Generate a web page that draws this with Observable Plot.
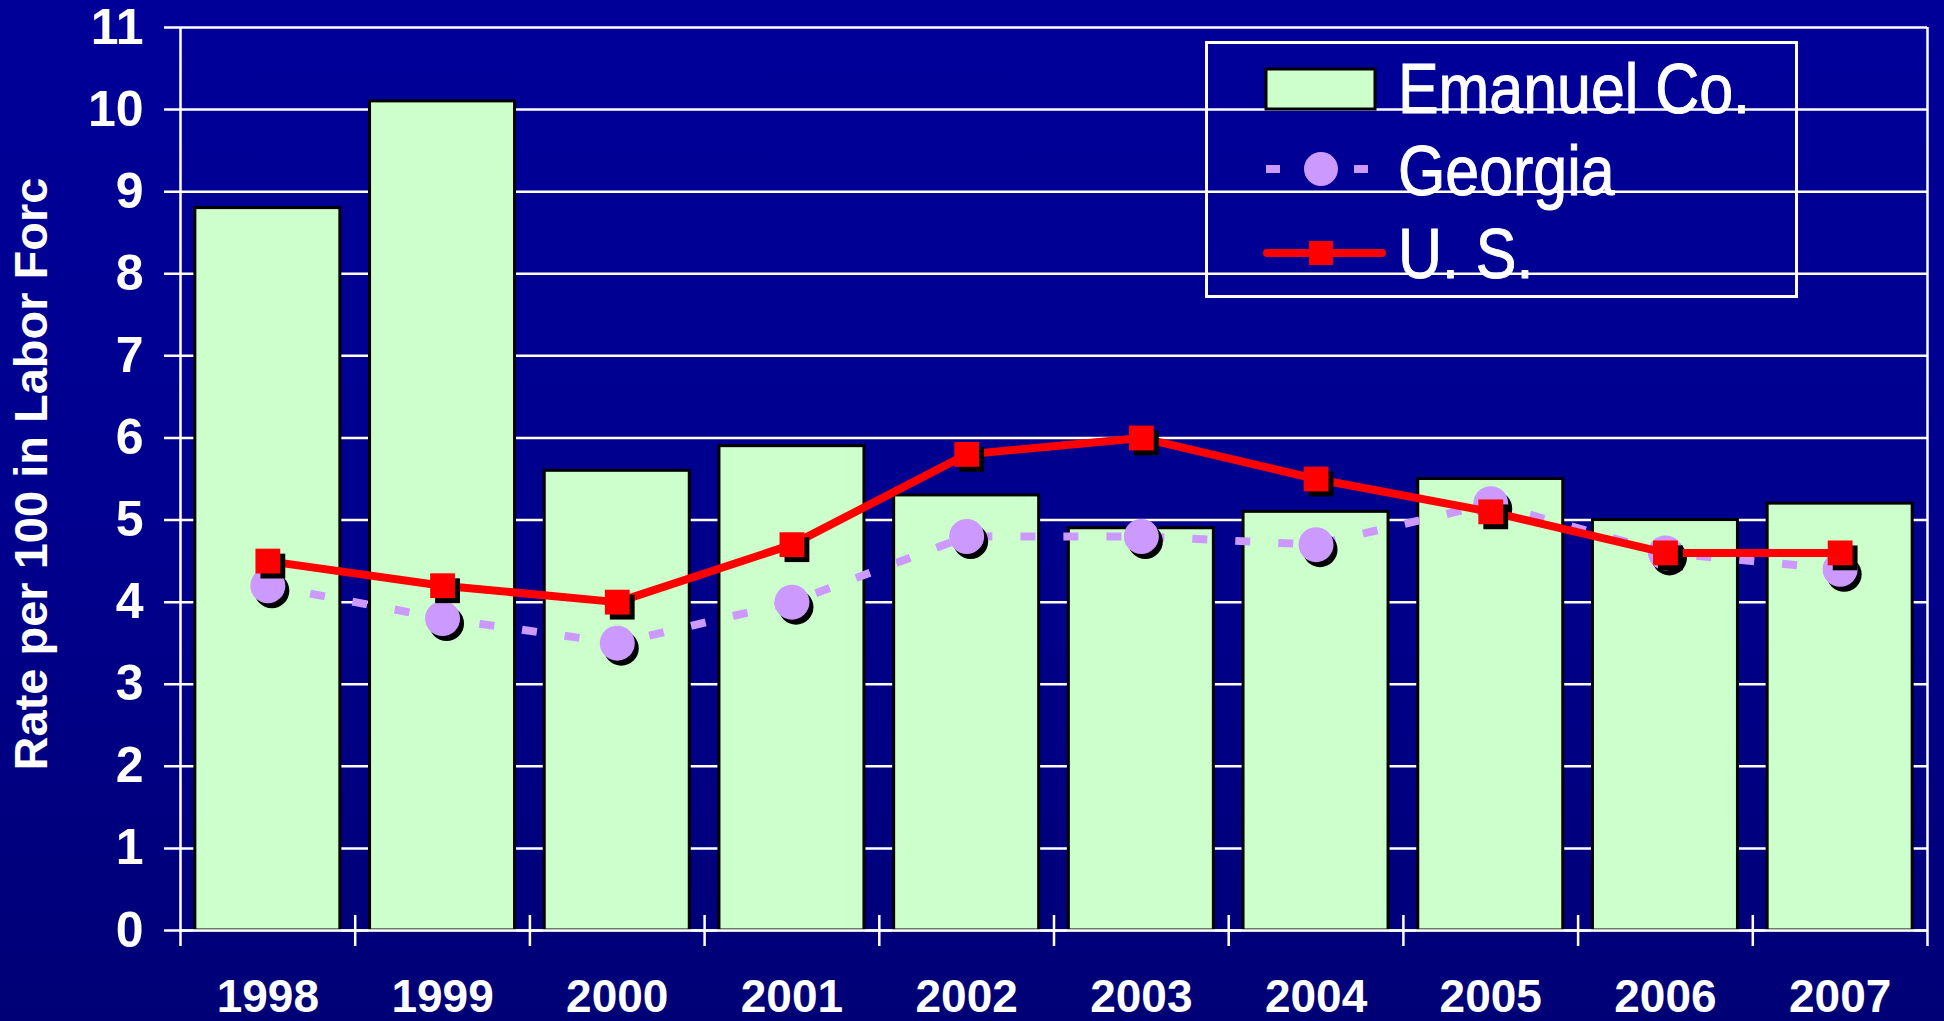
<!DOCTYPE html>
<html>
<head>
<meta charset="utf-8">
<script src="https://cdn.jsdelivr.net/npm/d3@7"></script>
<script src="https://cdn.jsdelivr.net/npm/@observablehq/plot@0.6"></script>
<style>
  html, body { margin: 0; padding: 0; }
  body {
    width: 1944px; height: 1021px; overflow: hidden;
    background: linear-gradient(to bottom, #000099 0%, #00008e 50%, #000076 100%);
    font-family: "Liberation Sans", Arial, sans-serif;
  }
  #chart { position: relative; width: 1944px; height: 1021px; }
  #legend { position: absolute; left: 1205px; top: 41px; }
</style>
</head>
<body>
<div id="chart"></div>
<script>
// ---- data ----
const years   = ["1998", "1999", "2000", "2001", "2002", "2003", "2004", "2005", "2006", "2007"];
const emanuel = [8.8, 10.1, 5.6, 5.9, 5.3, 4.9, 5.1, 5.5, 5.0, 5.2];
const georgia = [4.2, 3.8, 3.5, 4.0, 4.8, 4.8, 4.7, 5.2, 4.6, 4.4];
const us      = [4.5, 4.2, 4.0, 4.7, 5.8, 6.0, 5.5, 5.1, 4.6, 4.6];
const yTicks  = [0, 1, 2, 3, 4, 5, 6, 7, 8, 9, 10, 11];
const yLabel  = "Rate per 100 in Labor Forc";
const seriesNames = ["Emanuel Co.", "Georgia", "U. S."];

const data = years.map((year, i) => ({year, emanuel: emanuel[i], georgia: georgia[i], us: us[i]}));

// ---- layout / style ----
const W = 1944, H = 1021;
const mL = 180, mR = 17, mT = 27, mB = 91;
const step = (W - mL - mR) / years.length;
const frameH = H - mT - mB;
const barFill = "#CCFFCC", gaColor = "#CC99FF", usColor = "#FF0000";
const white = "white";
const bold = "bold";

const chart = Plot.plot({
  width: W, height: H,
  marginLeft: mL, marginRight: mR, marginTop: mT, marginBottom: mB,
  style: {background: "transparent", color: white, fontFamily: "'Liberation Sans', Arial, sans-serif", overflow: "visible"},
  x: {domain: years, type: "band", paddingInner: 0.17, paddingOuter: 0.085, round: false, label: null},
  y: {domain: [0, 11], label: null},
  marks: [
    // gridlines (extending left as ticks)
    Plot.ruleY(yTicks, {y: d => d, stroke: white, strokeWidth: 2.5, insetLeft: -16}),
    // left axis and right frame lines
    Plot.ruleX([years[0]], {x: d => d, dx: -step / 2, stroke: white, strokeWidth: 2.5, insetBottom: -16}),
    Plot.ruleX([years[years.length - 1]], {x: d => d, dx: step / 2, stroke: white, strokeWidth: 2.5, insetBottom: -16}),
    // category boundary ticks
    Plot.ruleX(years.slice(1), {x: d => d, dx: -step / 2, stroke: white, strokeWidth: 2.5, insetTop: frameH - 15, insetBottom: -16}),
    // bars
    Plot.barY(data, {x: "year", y: "emanuel", fill: barFill, stroke: "black", strokeWidth: 3}),
    Plot.ruleY([0], {stroke: white, strokeWidth: 2.5}),
    // Georgia
    Plot.lineY(data, {x: "year", y: "georgia", stroke: gaColor, strokeWidth: 8, strokeDasharray: "15,28", strokeLinecap: "butt"}),
    Plot.dot(data, {x: "year", y: "georgia", r: 17.5, fill: "black", dx: 4, dy: 5}),
    Plot.dot(data, {x: "year", y: "georgia", r: 17.5, fill: gaColor}),
    // U.S.
    Plot.lineY(data, {x: "year", y: "us", stroke: usColor, strokeWidth: 8}),
    Plot.dot(data, {x: "year", y: "us", symbol: "square", r: 14, fill: "black", dx: 5, dy: 5}),
    Plot.dot(data, {x: "year", y: "us", symbol: "square", r: 14, fill: usColor}),
    // axes
    Plot.axisY({ticks: yTicks, tickSize: 0, tickPadding: 37, fontSize: 50, fontWeight: bold, fill: white, label: null}),
    Plot.axisX({tickSize: 0, tickPadding: 49, fontSize: 46, fontWeight: bold, fill: white, label: null}),
    Plot.text([yLabel], {text: d => d, frameAnchor: "left", textAnchor: "middle", rotate: -90, dx: -149, dy: -5, fontSize: 47, fontWeight: bold, fill: white})
  ]
});
document.getElementById("chart").appendChild(chart);

// ---- legend ----
const LW = 593, LH = 257;
const leg = d3.select("#chart").append("svg")
  .attr("id", "legend").attr("width", LW).attr("height", LH);
leg.append("rect").attr("x", 1.5).attr("y", 1.5).attr("width", LW - 3).attr("height", LH - 3)
  .attr("fill", "none").attr("stroke", white).attr("stroke-width", 3);
// Emanuel swatch
leg.append("rect").attr("x", 61).attr("y", 28).attr("width", 109).attr("height", 40)
  .attr("fill", barFill).attr("stroke", "black").attr("stroke-width", 3);
// Georgia symbol
leg.append("line").attr("x1", 61).attr("x2", 164).attr("y1", 128).attr("y2", 128)
  .attr("stroke", gaColor).attr("stroke-width", 8).attr("stroke-dasharray", "14,74");
leg.append("circle").attr("cx", 116).attr("cy", 128).attr("r", 17).attr("fill", gaColor);
// US symbol
leg.append("line").attr("x1", 62).attr("x2", 177).attr("y1", 212).attr("y2", 212)
  .attr("stroke", usColor).attr("stroke-width", 8).attr("stroke-linecap", "round");
leg.append("rect").attr("x", 104).attr("y", 200).attr("width", 24).attr("height", 24).attr("fill", usColor);
// texts
const baselines = [72, 154, 237];
seriesNames.forEach((name, i) => {
  leg.append("text")
    .attr("transform", `translate(193,${baselines[i]}) scale(0.87,1)`)
    .attr("fill", white).attr("font-size", 70)
    .attr("stroke", white).attr("stroke-width", 1)
    .attr("font-family", "'Liberation Sans', Arial, sans-serif")
    .text(name);
});
</script>
</body>
</html>
